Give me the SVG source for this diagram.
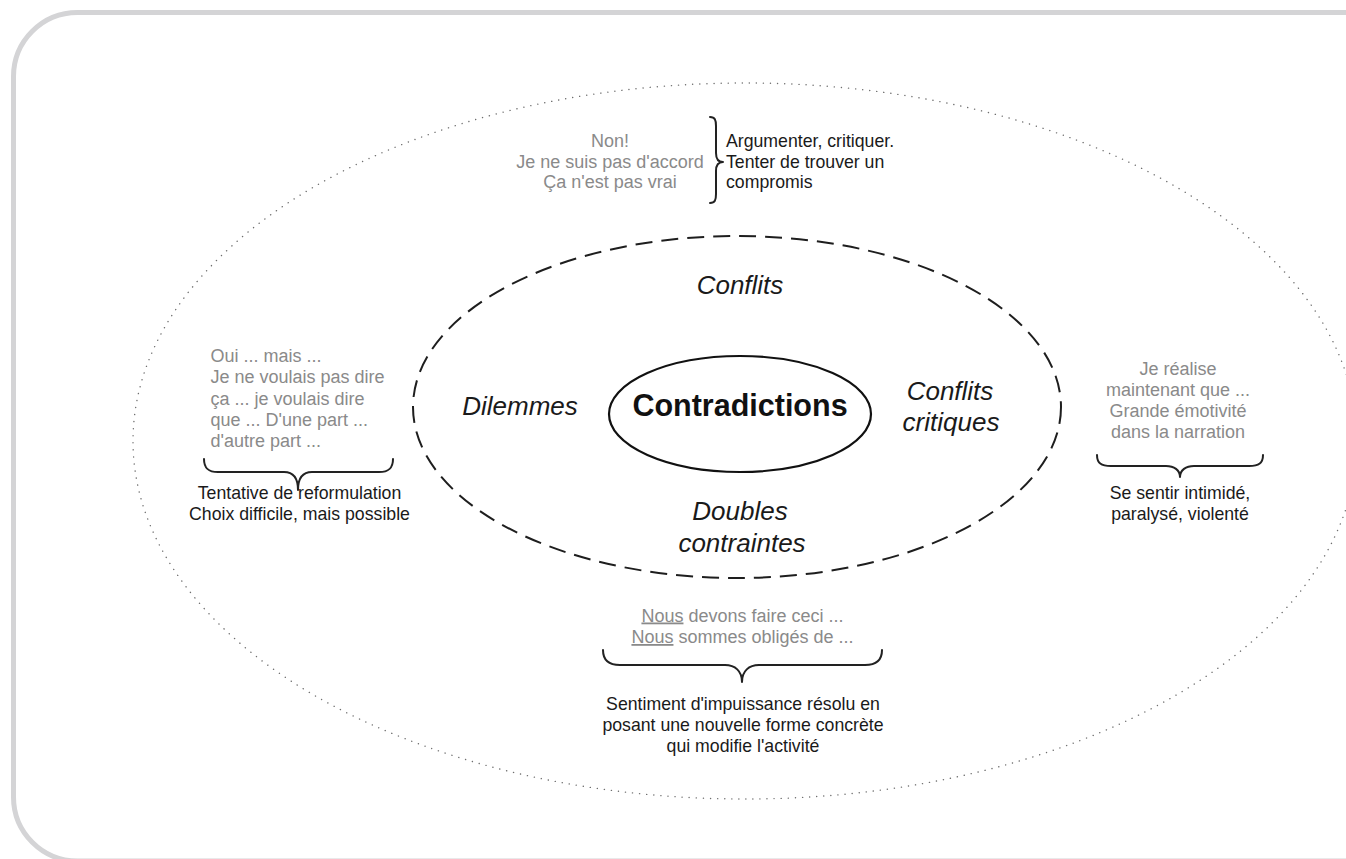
<svg xmlns="http://www.w3.org/2000/svg" width="1346" height="859" viewBox="0 0 1346 859">
<style>
.frame{fill:none;stroke:#d4d4d6;stroke-width:5}
.outer{fill:none;stroke:#6e6e6e;stroke-width:1.4;stroke-dasharray:0.1 7;stroke-linecap:round}
.dash{fill:none;stroke:#1e1e1e;stroke-width:2;stroke-dasharray:17 9}
.core{fill:none;stroke:#111;stroke-width:2.2}
.brace{fill:none;stroke:#222;stroke-width:2;stroke-linecap:round;stroke-linejoin:round}
.g{font-family:"Liberation Sans",Arial,sans-serif;font-size:18px;fill:#8a8a8a}
.b{font-family:"Liberation Sans",Arial,sans-serif;font-size:17.7px;fill:#1a1a1a}
.it{font-family:"Liberation Sans",Arial,sans-serif;font-size:26px;font-style:italic;fill:#1a1a1a;text-anchor:middle}
.c{text-anchor:middle}
</style>
<rect class="frame" x="13.5" y="12.5" width="1420" height="848.5" rx="64" ry="64"/>
<g id="outer-field">
<ellipse class="outer" cx="745" cy="441" rx="612" ry="358"/>
</g>
<g id="types">
<ellipse class="dash" cx="737" cy="407" rx="324" ry="171"/>
<text class="it" x="740" y="294">Conflits</text>
<text class="it" x="520" y="415">Dilemmes</text>
<text class="it" x="950" y="400">Conflits</text>
<text class="it" x="951" y="431">critiques</text>
<text class="it" x="740" y="520">Doubles</text>
<text class="it" x="742" y="552">contraintes</text>
</g>
<g id="contradictions">
<ellipse class="core" cx="740" cy="414" rx="131" ry="58"/>
<text x="740" y="416" text-anchor="middle" font-family="Liberation Sans, Arial, sans-serif" font-size="30.5" font-weight="bold" fill="#111">Contradictions</text>
</g>
<g id="conflits-indicators">
<text class="g c" x="610" y="147">Non!</text>
<text class="g c" x="610" y="167.5">Je ne suis pas d'accord</text>
<text class="g c" x="610" y="188">Ça n'est pas vrai</text>
<text class="b" x="726" y="147">Argumenter, critiquer.</text>
<text class="b" x="726" y="167.5">Tenter de trouver un</text>
<text class="b" x="726" y="188">compromis</text>
</g>
<g id="dilemmes-indicators">
<text class="g" x="210.5" y="362">Oui ... mais ...</text>
<text class="g" x="210.5" y="383.3">Je ne voulais pas dire</text>
<text class="g" x="210.5" y="404.5">ça ... je voulais dire</text>
<text class="g" x="210.5" y="425.8">que ... D'une part ...</text>
<text class="g" x="210.5" y="447">d'autre part ...</text>
<text class="b c" x="299.5" y="499">Tentative de reformulation</text>
<text class="b c" x="299.5" y="520">Choix difficile, mais possible</text>
</g>
<g id="critiques-indicators">
<text class="g c" x="1178" y="375">Je réalise</text>
<text class="g c" x="1178" y="396">maintenant que ...</text>
<text class="g c" x="1178" y="417">Grande émotivité</text>
<text class="g c" x="1178" y="438">dans la narration</text>
<text class="b c" x="1180" y="499">Se sentir intimidé,</text>
<text class="b c" x="1180" y="520">paralysé, violenté</text>
</g>
<g id="doubles-indicators">
<text class="g c" x="742.5" y="621.5"><tspan text-decoration="underline">Nous</tspan> devons faire ceci ...</text>
<text class="g c" x="742.5" y="643"><tspan text-decoration="underline">Nous</tspan> sommes obligés de ...</text>
<text class="b c" x="743" y="710">Sentiment d'impuissance résolu en</text>
<text class="b c" x="743" y="731">posant une nouvelle forme concrète</text>
<text class="b c" x="743" y="752">qui modifie l'activité</text>
</g>
<g id="connectors">
<path class="brace" d="M710 117 C715 117 716 120 716 126 L716 153 C716 159 718 162 723 162 C718 162 716 165 716 171 L716 194 C716 200 715 203 710 203"/>
<path class="brace" d="M204 459 C204 468 208 472 218 472 L284 472 C292 472 298 477 298 490 C298 477 304 472 312 472 L379 472 C389 472 393 468 393 459"/>
<path class="brace" d="M1097 455 C1097 463 1101 466 1111 466 L1166 466 C1174 466 1180 470 1180 477 C1180 470 1186 466 1194 466 L1249 466 C1259 466 1263 463 1263 455"/>
<path class="brace" d="M603 650 C603 660 608 665 620 665 L725 665 C735 665 742 671 742 682 C742 671 749 665 759 665 L865 665 C877 665 882 660 882 650"/>
</g>
</svg>
